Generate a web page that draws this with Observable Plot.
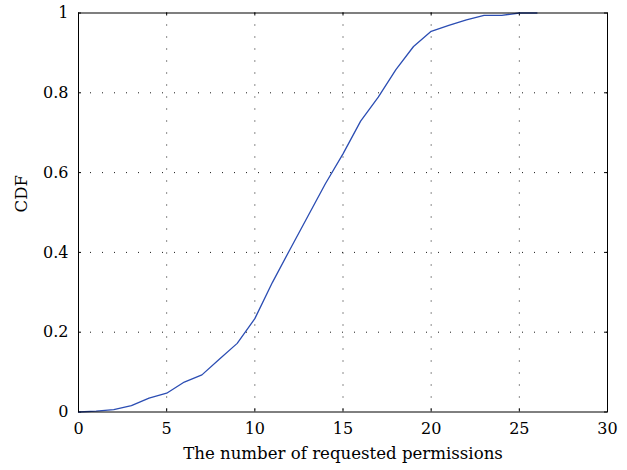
<!DOCTYPE html>
<html>
<head>
<meta charset="utf-8">
<script src="https://cdn.jsdelivr.net/npm/d3@7"></script>
<script src="https://cdn.jsdelivr.net/npm/@observablehq/plot@0.6"></script>
<style>
  html, body { margin: 0; padding: 0; background: #fff; }
</style>
</head>
<body>
<div id="chart"></div>
<script>
const permissions = [0,1,2,3,4,5,6,7,8,9,10,11,12,13,14,15,16,17,18,19,20,21,22,23,24,25,26];
const cdf = [0,0.002,0.006,0.016,0.035,0.047,0.075,0.093,0.133,0.172,0.234,0.325,0.408,0.49,0.572,0.647,0.729,0.789,0.858,0.916,0.954,0.969,0.983,0.994,0.994,1.0,1.0];
const xTicks = [0,5,10,15,20,25,30];
const yTicks = [0,0.2,0.4,0.6,0.8,1];
const xGrid = [5,10,15,20,25];
const yGrid = [0.2,0.4,0.6,0.8];
const xLabel = "The number of requested permissions";
const yLabel = "CDF";

const data = permissions.map((x, i) => ({x, y: cdf[i]}));

const W = 627, H = 470, mL = 78, mR = 20, mT = 12.5, mB = 58.5;
const pw = W - mL - mR, ph = H - mT - mB;
const tick = 3;

const chart = Plot.plot({
  width: W, height: H,
  marginLeft: mL, marginRight: mR, marginTop: mT, marginBottom: mB,
  style: {fontFamily: "'DejaVu Serif', serif", fontSize: "16px", color: "#000", background: "#fff"},
  x: {domain: [0, 30]},
  y: {domain: [0, 1]},
  marks: [
    Plot.ruleX(xGrid, {x: d => d, stroke: "#000", strokeWidth: 1, strokeDasharray: "1,11", strokeOpacity: 0.9}),
    Plot.ruleY(yGrid, {y: d => d, stroke: "#000", strokeWidth: 1, strokeDasharray: "1,11", strokeOpacity: 0.9}),
    Plot.tickX(xTicks, {x: d => d, insetTop: ph - tick, stroke: "#000"}),
    Plot.tickX(xTicks, {x: d => d, insetBottom: ph - tick, stroke: "#000"}),
    Plot.tickY(yTicks, {y: d => d, insetRight: pw - tick, stroke: "#000"}),
    Plot.tickY(yTicks, {y: d => d, insetLeft: pw - tick, stroke: "#000"}),
    Plot.line(data, {x: "x", y: "y", stroke: "#2b4db3", strokeWidth: 1.3}),
    Plot.frame({stroke: "#000", strokeWidth: 1}),
    Plot.axisX(xTicks, {tickSize: 0, tickPadding: 11, label: null, fontSize: 16}),
    Plot.axisY(yTicks, {tickSize: 0, tickPadding: 10, label: null, fontSize: 16, tickFormat: d => String(d)}),
    Plot.text([xLabel], {text: d => d, frameAnchor: "bottom", dy: 46.5, fontSize: 16.6}),
    Plot.text([yLabel], {text: d => d, frameAnchor: "left", dx: -57, rotate: -90, fontSize: 16.6})
  ]
});
document.getElementById("chart").appendChild(chart);
</script>
</body>
</html>
